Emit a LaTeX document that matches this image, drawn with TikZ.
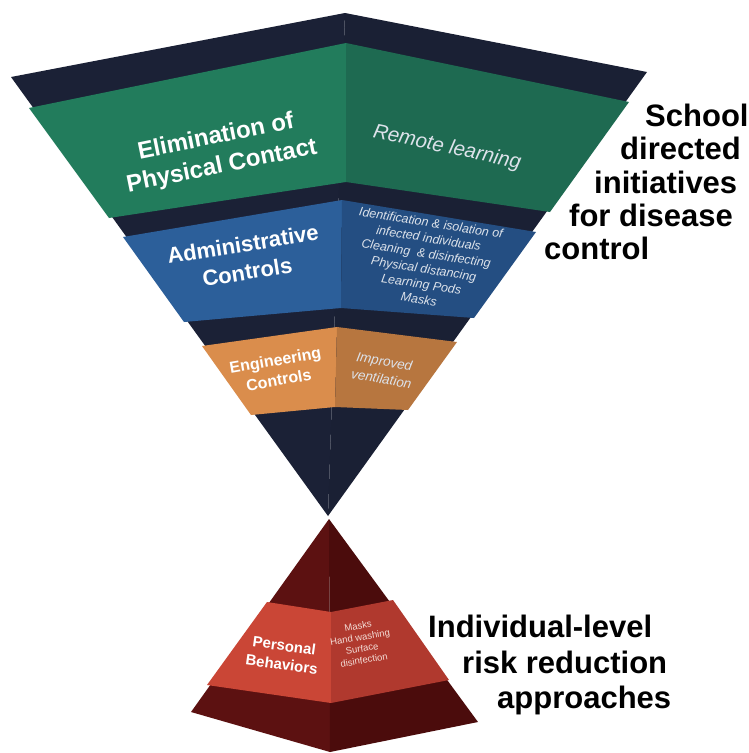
\documentclass[tikz,border=0pt]{standalone}
\usepackage{fontspec}
\setmainfont{Liberation Sans}

\definecolor{navyL}{HTML}{1B2136}
\definecolor{navyR}{HTML}{1A2034}
\definecolor{greenL}{HTML}{227C5C}
\definecolor{greenR}{HTML}{1E6A51}
\definecolor{blueL}{HTML}{2C5F9A}
\definecolor{blueR}{HTML}{244E82}
\definecolor{orangeL}{HTML}{DA8D4C}
\definecolor{orangeR}{HTML}{B7763F}
\definecolor{wineL}{HTML}{5C1111}
\definecolor{wineR}{HTML}{4B0C0C}
\definecolor{redL}{HTML}{CA4636}
\definecolor{redR}{HTML}{B0392E}
\definecolor{notegray}{HTML}{DCE2EA}
\definecolor{notepink}{HTML}{F3DCD6}

\begin{document}
\begin{tikzpicture}[x=1pt, y=-1pt,
    head/.style={align=center, text=white, font=\bfseries, inner sep=0pt},
    note/.style={align=center, text=notegray, font=\itshape, inner sep=0pt},
    side/.style={anchor=base west, inner sep=0pt, font=\bfseries\fontsize{31}{34}\selectfont}]

            \fill[white] (0,0) rectangle (748,753);
            \useasboundingbox (0,0) rectangle (748,753);

            % Inverted pyramid
            \coordinate (top) at (345,13);
            \coordinate (tl) at (11,77);
            \coordinate (tr) at (647,72);
            \coordinate (tip) at (328,516);
            \fill[navyL] (tl) -- (top) -- (tip) -- cycle;
            \fill[navyR] (top) -- (tr) -- (tip) -- cycle;

            % Top band
            \fill[greenL] (29,108) -- (346,43) -- (346,182) -- (109,218) -- cycle;
            \fill[greenR] (346,43) -- (629,102) -- (550,212) -- (346,182) -- cycle;
            \node[head, rotate=11.5, font=\bfseries\fontsize{24}{30}\selectfont] (elim) at (219,152) {Elimination of\\Physical Contact};
            \node[note, rotate=-12, font=\itshape\fontsize{20.5}{24}\selectfont] (remote) at (447,148) {Remote learning};

            % Second band
            \fill[blueL] (123,237) -- (342,200) -- (341,308) -- (184,322) -- cycle;
            \fill[blueR] (342,200) -- (536,232) -- (474,318) -- (341,308) -- cycle;
            \node[head, rotate=9, font=\bfseries\fontsize{22}{28}\selectfont] (admin) at (245,258) {Administrative\\Controls};
            \node[note, rotate=-9, font=\itshape\fontsize{12.5}{15.5}\selectfont] (adminlist) at (425,261) {Identification \& isolation of\\infected individuals\\Cleaning~ \& disinfecting\\Physical distancing\\Learning Pods\\Masks};

            % Third band
            \fill[orangeL] (202,346) -- (337,327) -- (335,407) -- (251,415) -- cycle;
            \fill[orangeR] (337,327) -- (457,342) -- (408,410) -- (335,407) -- cycle;
            \node[head, rotate=10, font=\bfseries\fontsize{16}{20}\selectfont] (eng) at (277,370) {Engineering\\Controls};
            \node[note, rotate=-10, font=\itshape\fontsize{13.5}{17.5}\selectfont] (engnote) at (383,370) {Improved\\ventilation};

            % Upright pyramid
            \coordinate (peak) at (329,519);
            \coordinate (bl) at (191,712);
            \coordinate (bc) at (330,752);
            \coordinate (br) at (478,722);
            \fill[wineL] (peak) -- (bl) -- (bc) -- cycle;
            \fill[wineR] (peak) -- (bc) -- (br) -- cycle;

            % Its band
            \fill[redL] (267,602) -- (331,612) -- (331,703) -- (207,685) -- cycle;
            \fill[redR] (331,612) -- (393,600) -- (449,680) -- (331,703) -- cycle;
            \node[head, rotate=-8, font=\bfseries\fontsize{15}{19}\selectfont] (pers) at (283,655) {Personal\\Behaviors};
            \node[note, text=notepink, rotate=10, font=\fontsize{9.5}{11.5}\selectfont] (persnote) at (361,643) {Masks\\Hand washing\\Surface\\disinfection};

            % Side texts
            \node[side] (sch1) at (645,126) {School};
            \node[side] (sch2) at (620,159) {directed};
            \node[side] (sch3) at (594,193) {initiatives};
            \node[side] (sch4) at (569,226) {for disease};
            \node[side] (sch5) at (544,259) {control};

            \node[side] (ind1) at (428,637) {Individual-level};
            \node[side] (ind2) at (462,673) {risk reduction};
            \node[side] (ind3) at (497,708) {approaches};
        \end{tikzpicture}
\end{document}
